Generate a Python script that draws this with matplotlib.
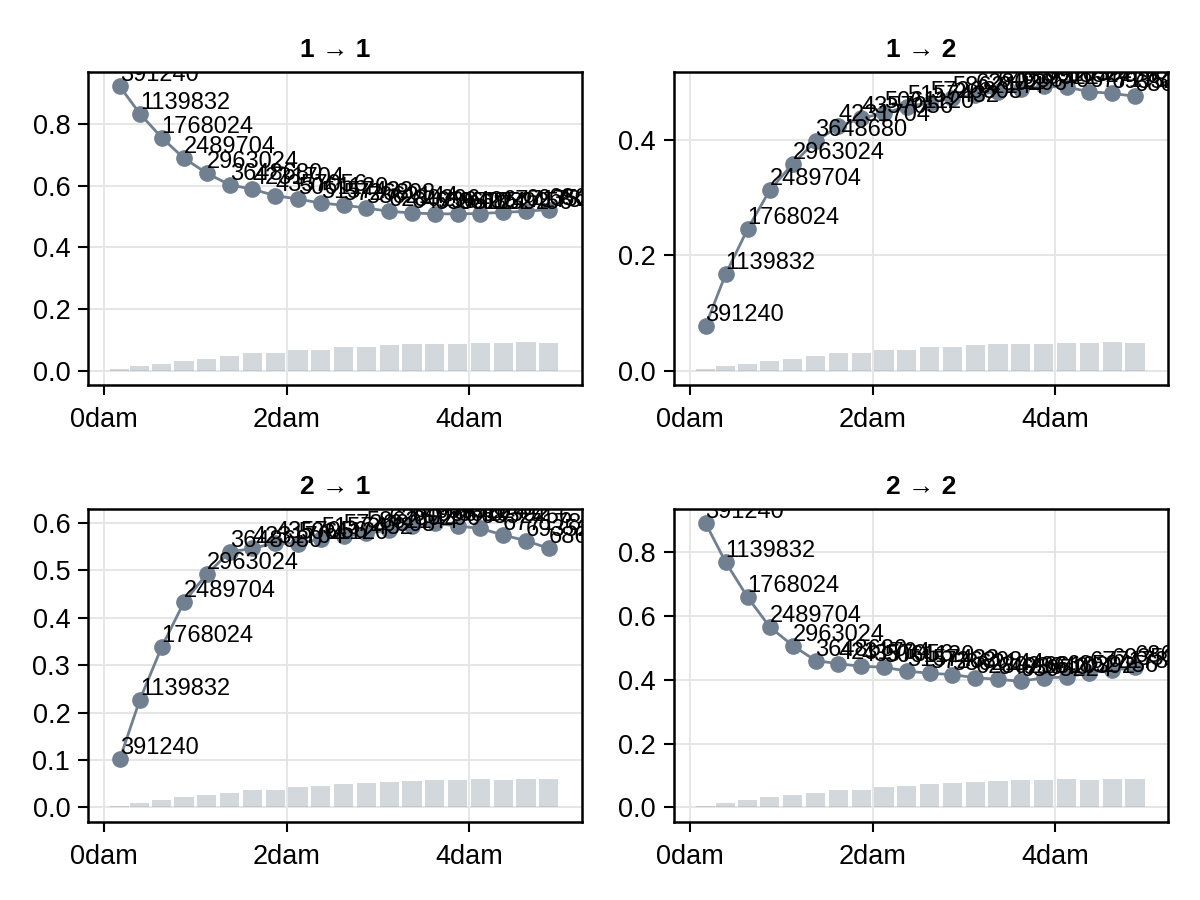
#!/usr/bin/env python

import matplotlib.pyplot as plt
from matplotlib.ticker import FuncFormatter

plt.rcParams['font.family'] = ['Liberation Sans', 'DejaVu Sans']

# distance of each bin (dam), shared by all panels
distance = [0.17, 0.39, 0.63, 0.875, 1.125, 1.375, 1.625, 1.875, 2.125, 2.375,
            2.625, 2.875, 3.125, 3.375, 3.625, 3.875, 4.125, 4.375, 4.625, 4.875]

# number of pairs per bin (labels + bar heights)
counts = [391240, 1139832, 1768024, 2489704, 2963024, 3648680, 4231704, 4357056,
          5061120, 5157432, 5726808, 5862144, 6280296, 6493640, 6595224, 6610392,
          6852456, 6771784, 6935216, 6863952]

titles = ['1 → 1', '1 → 2', '2 → 1', '2 → 2']

values_11 = [0.922, 0.834, 0.756, 0.689, 0.641, 0.603, 0.589, 0.568, 0.557, 0.544,
             0.537, 0.528, 0.517, 0.512, 0.509, 0.509, 0.510, 0.514, 0.517, 0.523]
values_12 = [0.078, 0.167, 0.245, 0.313, 0.358, 0.397, 0.423, 0.437, 0.446, 0.457,
             0.464, 0.472, 0.478, 0.483, 0.487, 0.492, 0.491, 0.483, 0.480, 0.475]
values_21 = [0.102, 0.227, 0.338, 0.433, 0.492, 0.538, 0.546, 0.557, 0.556, 0.566,
             0.571, 0.578, 0.584, 0.592, 0.599, 0.593, 0.588, 0.574, 0.562, 0.546]
values_22 = [0.892, 0.770, 0.660, 0.566, 0.508, 0.461, 0.451, 0.443, 0.440, 0.428,
             0.421, 0.417, 0.407, 0.402, 0.396, 0.407, 0.409, 0.423, 0.430, 0.440]

yticks = [[0.0, 0.2, 0.4, 0.6, 0.8],
          [0.0, 0.2, 0.4],
          [0.0, 0.1, 0.2, 0.3, 0.4, 0.5, 0.6],
          [0.0, 0.2, 0.4, 0.6, 0.8]]

color = '#708090'

# axes boxes in figure fractions [left, bottom, width, height]
boxes = [[0.0736, 0.5722, 0.4114, 0.3475],
         [0.5617, 0.5722, 0.4119, 0.3475],
         [0.0736, 0.0870, 0.4114, 0.3475],
         [0.5617, 0.0870, 0.4119, 0.3475]]


def draw_panel(ax, values, title, ticks):
    top = max(values)
    max_count = max(counts)
    heights = [c / max_count * 0.1 * top for c in counts]

    ax.bar(distance, heights, width=0.21, color=color, alpha=0.3, zorder=1)
    ax.plot(distance, values, '-', color=color, lw=2, zorder=2)
    ax.plot(distance, values, 'o', color=color, ms=11, zorder=3)

    for x, y, c in zip(distance, values, counts):
        ax.text(x, y, str(c), ha='left', va='bottom', fontsize=17,
                color='black', zorder=4, clip_on=True)

    ax.set_xlim(-0.175, 5.24)
    ax.set_ylim(-0.05 * top, 1.05 * top)
    ax.set_xticks([0, 2, 4])
    ax.xaxis.set_major_formatter(FuncFormatter(lambda v, p: '%ddam' % v))
    ax.set_yticks(ticks)
    ax.yaxis.set_major_formatter(FuncFormatter(lambda v, p: '%.1f' % v))

    ax.grid(True, color='#e6e6e6', lw=1.4, zorder=0)
    ax.set_axisbelow(True)
    for s in ax.spines.values():
        s.set_linewidth(1.8)
    ax.tick_params(direction='out', length=7, width=1.5, labelsize=19.5)
    ax.tick_params(axis='x', pad=9)
    ax.tick_params(axis='y', pad=6)
    ax.set_title(title, fontsize=19, fontweight='bold', pad=11)


def main():
    fig = plt.figure(figsize=(12, 9), dpi=100)
    all_values = [values_11, values_12, values_21, values_22]
    for box, values, title, ticks in zip(boxes, all_values, titles, yticks):
        ax = fig.add_axes(box)
        draw_panel(ax, values, title, ticks)

    plt.savefig('out.png', dpi=100)
    # plt.show()


if __name__ == '__main__':
    main()
